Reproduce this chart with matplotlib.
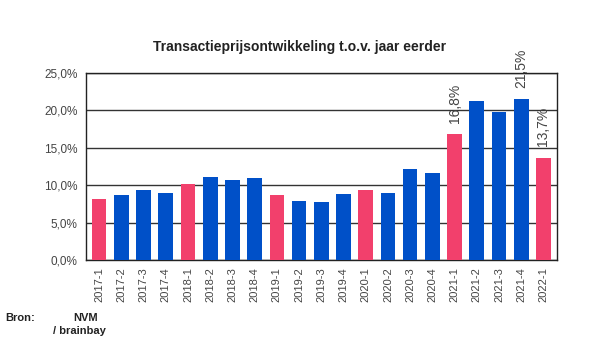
import matplotlib.pyplot as plt
import numpy as np

plt.rcParams['font.family'] = ['Liberation Sans', 'DejaVu Sans']

# Kwartalen en prijsontwikkeling t.o.v. jaar eerder (%)
kwartalen = ['2017-1', '2017-2', '2017-3', '2017-4',
             '2018-1', '2018-2', '2018-3', '2018-4',
             '2019-1', '2019-2', '2019-3', '2019-4',
             '2020-1', '2020-2', '2020-3', '2020-4',
             '2021-1', '2021-2', '2021-3', '2021-4',
             '2022-1']
waarden = [8.1, 8.7, 9.3, 8.9,
           10.1, 11.1, 10.7, 11.0,
           8.7, 7.9, 7.7, 8.8,
           9.3, 8.9, 12.1, 11.6,
           16.8, 21.2, 19.8, 21.5,
           13.7]
labels = {16: '16,8%', 19: '21,5%', 20: '13,7%'}

blauw = '#0050c8'
roze = '#f2406c'
kleuren = [roze if k.endswith('-1') else blauw for k in kwartalen]

fig = plt.figure(figsize=(6, 3.52), dpi=100)
ax = fig.add_axes([0.143, 0.261, 0.785, 0.532])

x = np.arange(len(kwartalen))
ax.bar(x, waarden, width=0.66, color=kleuren, zorder=3)

ax.set_ylim(0, 25)
ax.set_xlim(-0.6, len(kwartalen) - 0.4)
ax.set_yticks(np.arange(0, 26, 5))
ax.set_yticklabels([f'{v:.1f}%'.replace('.', ',') for v in np.arange(0, 26, 5)])
ax.yaxis.grid(True, color='#333333', linewidth=1.0, zorder=0)
ax.tick_params(axis='y', length=0, labelsize=8.5, labelcolor='#444444', pad=6)
ax.set_xticks(x)
ax.set_xticklabels(kwartalen, rotation=90)
ax.tick_params(axis='x', length=0, labelsize=8, labelcolor='#444444', pad=5)
for s in ax.spines.values():
    s.set_color('#222222')
    s.set_linewidth(1.0)

for i, t in labels.items():
    ax.annotate(t, (x[i], waarden[i]), xytext=(0, 8), textcoords='offset points',
                rotation=90, ha='center', va='bottom', fontsize=10, color='#444444',
                annotation_clip=False, zorder=5)

fig.text(0.5, 0.866, 'Transactieprijsontwikkeling t.o.v. jaar eerder',
         ha='center', va='center', fontsize=10, fontweight='bold', color='#222222')
fig.text(0.008, 0.088, 'Bron:', fontsize=8, fontweight='bold', color='#222222')
fig.text(0.122, 0.088, 'NVM', fontsize=8, fontweight='bold', color='#222222')
fig.text(0.088, 0.05, '/ brainbay', fontsize=8, fontweight='bold', color='#222222')

fig.savefig('out.png', dpi=100)
